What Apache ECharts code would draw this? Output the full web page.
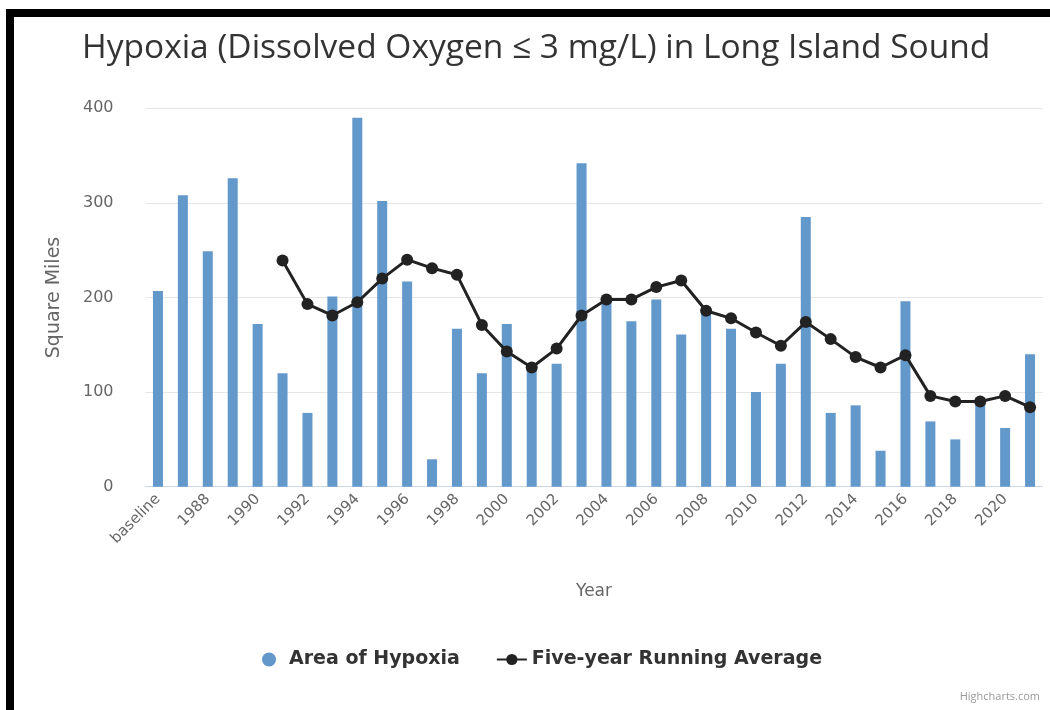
<!DOCTYPE html>
<html>
<head>
<meta charset="utf-8">
<script src="https://cdn.jsdelivr.net/npm/echarts@6/dist/echarts.min.js"></script>
<style>
html,body{margin:0;padding:0;background:#fff;}
#chart{width:1050px;height:710px;}
#frame{position:absolute;left:6px;top:9px;right:0;bottom:0;border-top:8px solid #000;border-left:8px solid #000;pointer-events:none;}
</style>
</head>
<body>
<div id="chart"></div>
<div id="frame"></div>
<script>
const categories = ['baseline','1987','1988','1989','1990','1991','1992','1993','1994','1995','1996','1997','1998','1999','2000','2001','2002','2003','2004','2005','2006','2007','2008','2009','2010','2011','2012','2013','2014','2015','2016','2017','2018','2019','2020','2021'];
const areaOfHypoxia = [207,308,249,326,172,120,78,201,390,302,217,29,167,120,172,125,130,342,197,175,198,161,183,167,100,130,285,78,86,38,196,69,50,88,62,140];
const fiveYearAverage = [null,null,null,null,null,239,193,181,195,220,240,231,224,171,143,126,146,181,198,198,211,218,186,178,163,149,174,156,137,126,139,96,90,90,96,84];
const yTicks = [0,100,200,300,400];

const chart = echarts.init(document.getElementById('chart'), null, {renderer:'canvas'});
chart.setOption({
  animation:false,
  backgroundColor:'#fff',
  title:{
    text:'Hypoxia (Dissolved Oxygen ≤ 3 mg/L) in Long Island Sound',
    left:77, top:26,
    textStyle:{fontFamily:'"Open Sans"', fontSize:33.5, fontWeight:'normal', color:'#333'}
  },
  legend:{
    top:645, left:257,
    itemGap:36, itemWidth:30, itemHeight:14,
    textStyle:{fontFamily:'"DejaVu Sans"', fontSize:19, fontWeight:'bold', color:'#333'},
    data:[{name:'Area of Hypoxia', icon:'circle'},{name:'Five-year Running Average'}]
  },
  graphic:[{
    type:'text', right:10, top:691,
    style:{text:'Highcharts.com', fill:'#999', font:'11px "Open Sans"'}
  }],
  grid:{left:145.5, right:7.5, top:108.3, bottom:223.3, containLabel:false},
  xAxis:{
    type:'category', data:categories, boundaryGap:true,
    name:'Year', nameLocation:'middle', nameGap:96,
    nameTextStyle:{fontFamily:'"DejaVu Sans"', fontSize:17, color:'#666'},
    axisLine:{lineStyle:{color:'#ccd6eb'}},
    axisTick:{show:false},
    axisLabel:{interval:1, rotate:45, margin:10, fontFamily:'"DejaVu Sans"', fontSize:15, color:'#666'}
  },
  yAxis:{
    type:'value', min:yTicks[0], max:yTicks[yTicks.length-1], interval:100,
    name:'Square Miles', nameLocation:'middle', nameGap:82,
    nameTextStyle:{fontFamily:'"DejaVu Sans"', fontSize:19, color:'#666'},
    axisLine:{show:false}, axisTick:{show:false},
    axisLabel:{margin:32, fontFamily:'"DejaVu Sans"', fontSize:16, color:'#666'},
    splitLine:{lineStyle:{color:'#e6e6e6'}}
  },
  series:[
    {
      name:'Area of Hypoxia', type:'bar', data:areaOfHypoxia, barWidth:10,
      itemStyle:{color:'#6398cb'}
    },
    {
      name:'Five-year Running Average', type:'line', data:fiveYearAverage,
      symbol:'circle', symbolSize:12,
      lineStyle:{color:'#222', width:3},
      itemStyle:{color:'#222'}
    }
  ]
});
</script>
</body>
</html>
